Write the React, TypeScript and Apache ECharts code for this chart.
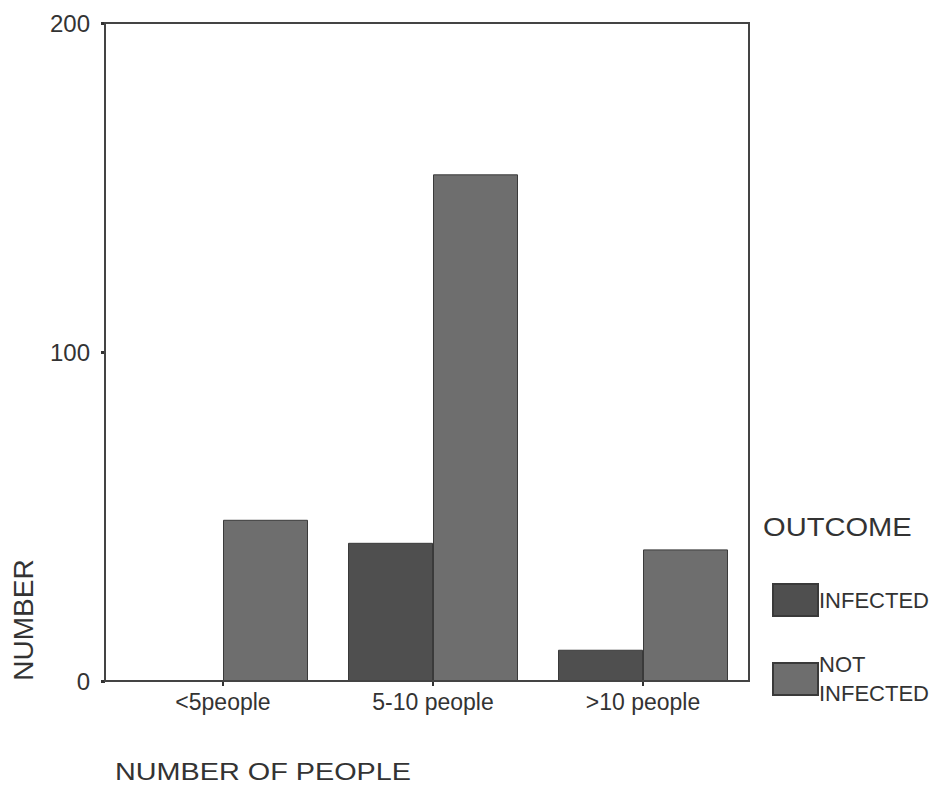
import React, { useEffect, useRef } from "react";
import * as echarts from "echarts";

const categories = ["<5people", "5-10 people", ">10 people"];
const infected = [0, 42, 9.5];
const notInfected = [49, 154, 40];
const yTicks = { min: 0, max: 200, interval: 100 };
const seriesNames = ["INFECTED", "NOT INFECTED"];

const FONT = "'Liberation Sans', Arial, sans-serif";

export default function App() {
  const ref = useRef<HTMLDivElement>(null);
  useEffect(() => {
    if (!ref.current) return;
    const chart = echarts.init(ref.current, null, { renderer: "svg" });
    chart.setOption({
      animation: false,
      backgroundColor: "#ffffff",
      textStyle: { fontFamily: FONT },
      grid: { left: 118, top: 23, width: 630, height: 658 },
      legend: {
        orient: "vertical",
        left: 767,
        top: 578,
        itemWidth: 45,
        itemHeight: 32,
        itemGap: 33,
        icon: "rect",
        data: seriesNames,
        formatter: (n: string) => n.replace(" ", "\n"),
        textStyle: { fontSize: 22, color: "#333", fontFamily: FONT, lineHeight: 29, padding: [0, 0, 0, -4] },
      },
      xAxis: {
        type: "category",
        data: categories,
        axisLine: { show: false },
        axisTick: { show: true, alignWithLabel: true, length: 5, lineStyle: { color: "#333", width: 2 } },
        axisLabel: { fontSize: 23, color: "#333", margin: 9, fontFamily: FONT },
      },
      yAxis: {
        type: "value",
        min: yTicks.min,
        max: yTicks.max,
        interval: yTicks.interval,
        offset: 13,
        axisLine: { show: true, lineStyle: { color: "#444", width: 2 } },
        axisTick: { show: true, length: 4, lineStyle: { color: "#333", width: 3 } },
        axisLabel: { fontSize: 24, color: "#333", margin: 15, fontFamily: FONT },
        splitLine: { show: false },
      },
      series: [
        {
          name: seriesNames[0],
          type: "bar",
          data: infected,
          barWidth: 85,
          barGap: "0%",
          itemStyle: { color: "#4f4f4f", borderColor: "#3a3a3a", borderWidth: 1 },
        },
        {
          name: seriesNames[1],
          type: "bar",
          data: notInfected,
          barWidth: 85,
          barGap: "0%",
          itemStyle: { color: "#6e6e6e", borderColor: "#3a3a3a", borderWidth: 1 },
        },
      ],
      graphic: [
        {
          type: "rect",
          shape: { x: 105, y: 23, width: 644, height: 658 },
          style: { fill: "none", stroke: "#444", lineWidth: 2 },
          z: 10,
        },
        {
          type: "text",
          x: 23,
          y: 620,
          rotation: Math.PI / 2,
          style: { text: "NUMBER", font: `28px ${FONT}`, fill: "#333", textAlign: "center", textVerticalAlign: "middle" },
        },
        {
          type: "text",
          x: 115,
          y: 772,
          scaleX: 1.2,
          style: { text: "NUMBER OF PEOPLE", font: `24px ${FONT}`, fill: "#333", textAlign: "left", textVerticalAlign: "middle" },
        },
        {
          type: "text",
          x: 763,
          y: 527,
          scaleX: 1.12,
          style: { text: "OUTCOME", font: `26px ${FONT}`, fill: "#333", textAlign: "left", textVerticalAlign: "middle" },
        },
      ],
    });
    return () => chart.dispose();
  }, []);
  return (
    <div style={{ position: "fixed", left: 0, top: 0, width: 940, height: 793, background: "#fff" }}>
      <div ref={ref} style={{ width: 940, height: 793 }} />
    </div>
  );
}
